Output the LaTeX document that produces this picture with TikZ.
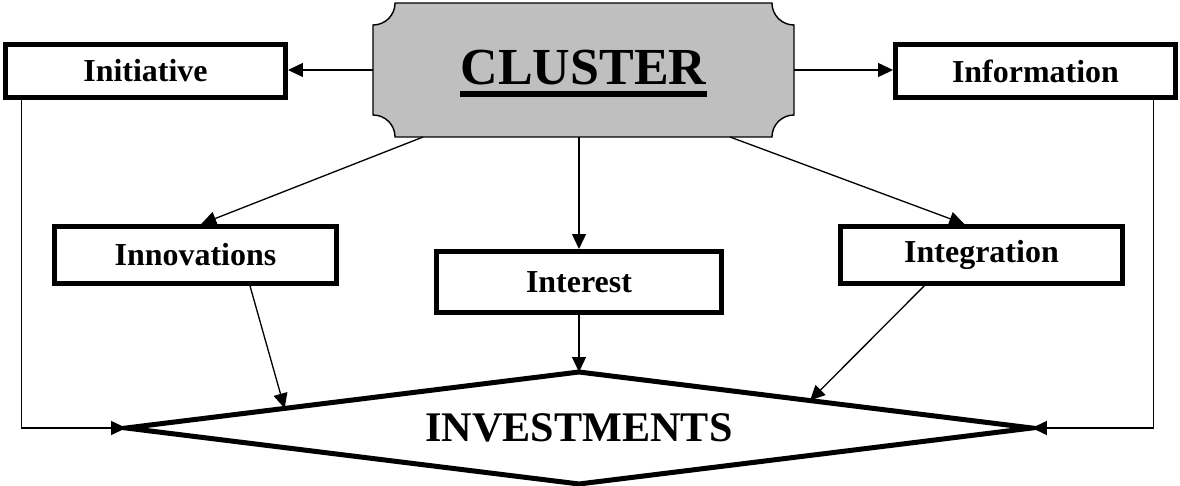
\documentclass[tikz,border=0pt]{standalone}
\usepackage{fontspec}
\setmainfont{Liberation Serif}
\usetikzlibrary{arrows.meta,shapes.geometric,calc}

\begin{document}
\begin{tikzpicture}[x=0.02cm,y=-0.02cm,
  thinline/.style={line width=0.75pt},
  arr/.style={thinline,-{Triangle[length=0.3cm,width=0.28cm]}},
  labelbox/.style={draw,line width=0.1cm,fill=white,inner sep=0pt,
    font=\fontsize{18.2pt}{20pt}\selectfont\bfseries},
  clustershape/.style={draw,line width=0.8pt,fill=black!25},
]
\useasboundingbox (0,0) rectangle (1180,486);

% central cluster plate: an anchor box plus its notched outline
\node[minimum width=8.42cm,minimum height=2.68cm,inner sep=0pt,outer sep=0pt] (cl) at (583.5,70) {};
\draw[clustershape]
  ([xshift=0.44cm]cl.north west) -- ([xshift=-0.44cm]cl.north east)
  arc[start angle=180,end angle=270,radius=0.44cm]
  -- ([yshift=0.44cm]cl.south east)
  arc[start angle=90,end angle=180,radius=0.44cm]
  -- ([xshift=0.44cm]cl.south west)
  arc[start angle=0,end angle=90,radius=0.44cm]
  -- ([yshift=-0.44cm]cl.north west)
  arc[start angle=-90,end angle=0,radius=0.44cm]
  -- cycle;
\node[inner sep=0pt,font=\fontsize{29.6pt}{32pt}\selectfont\bfseries] (ct) at (583.5,67.5) {CLUSTER};
\draw[line width=0.12cm] ([yshift=-0.2cm]ct.base west) -- ([yshift=-0.2cm]ct.base east);

% labelled boxes
\node[labelbox,minimum width=5.6cm,minimum height=1.06cm] (ini) at (145.5,71) {Initiative};
\node[labelbox,minimum width=5.6cm,minimum height=1.06cm] (inf) at (1035.5,71) {Information};
\node[labelbox,minimum width=5.64cm,minimum height=1.14cm] (inn) at (195.5,255) {Innovations};
\node[labelbox,minimum width=5.72cm,minimum height=1.22cm] (int) at (579,282) {Interest};
\node[labelbox,minimum width=5.64cm,minimum height=1.14cm] (itg) at (981.5,255) {Integration};

% investments diamond
\node[diamond,draw,line width=0.1cm,inner sep=0pt,outer sep=0pt,aspect=8,
  minimum width=18.12cm,minimum height=2.24cm,
  font=\fontsize{24pt}{26pt}\selectfont\bfseries] (inv) at (579,428) {INVESTMENTS};

% connectors
\draw[arr] (cl.west) -- (cl.west -| ini.east);
\draw[arr] (cl.east) -- (cl.east -| inf.west);
\draw[arr] ($(cl.south west)!0.119!(cl.south east)$) -- ($(inn.north west)!0.52!(inn.north east)$);
\draw[arr] (cl.south -| int.north) -- (int.north);
\draw[arr] ($(cl.south west)!0.848!(cl.south east)$) -- ($(itg.north west)!0.44!(itg.north east)$);
\draw[arr] ($(inn.south west)!0.69!(inn.south east)$) -- ($(inv.west)!0.35!(inv.north)$);
\draw[arr] (int.south) -- (inv.north);
\draw[arr] ($(itg.south west)!0.30!(itg.south east)$) -- ($(inv.east)!0.49!(inv.north)$);
\draw[arr] ([xshift=-2.48cm]ini.south) |- (inv.west);
\draw[arr] ([xshift=2.36cm]inf.south) |- (inv.east);
\end{tikzpicture}
\end{document}
